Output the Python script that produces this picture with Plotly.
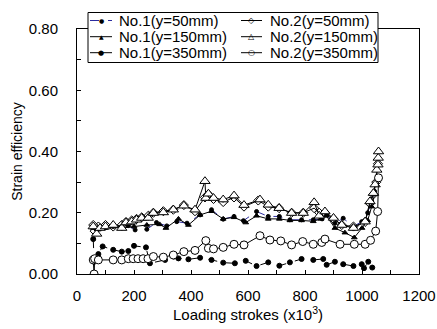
import plotly.graph_objects as go

# ---- data ----
x_n1_50 = [57, 75, 100, 127, 157, 180, 204, 245, 279, 315, 350, 386, 432, 472, 513, 551, 584, 630, 671, 710, 747, 788, 829, 860, 876, 905, 934, 970, 999, 1020, 1034, 1044]
y_n1_50 = [0.155, 0.15, 0.152, 0.155, 0.15, 0.158, 0.144, 0.146, 0.168, 0.157, 0.171, 0.166, 0.193, 0.21, 0.179, 0.188, 0.174, 0.204, 0.188, 0.188, 0.177, 0.177, 0.177, 0.18, 0.193, 0.166, 0.182, 0.155, 0.171, 0.2, 0.237, 0.27]

x_n1_150 = [57, 75, 100, 127, 157, 200, 245, 290, 312, 356, 391, 432, 472, 513, 551, 592, 630, 671, 710, 747, 788, 829, 855, 875, 905, 940, 973, 1000, 1020, 1034, 1044]
y_n1_150 = [0.15, 0.145, 0.15, 0.155, 0.15, 0.155, 0.16, 0.162, 0.15, 0.18, 0.16, 0.193, 0.205, 0.18, 0.185, 0.168, 0.19, 0.18, 0.18, 0.175, 0.175, 0.172, 0.18, 0.19, 0.15, 0.135, 0.119, 0.15, 0.175, 0.22, 0.26]

x_n1_350 = [57, 60, 75, 90, 127, 157, 180, 200, 242, 256, 309, 356, 391, 432, 472, 513, 554, 592, 630, 671, 710, 747, 788, 829, 864, 876, 905, 934, 970, 999, 1007, 1022, 1036]
y_n1_350 = [0.114, 0.04, 0.065, 0.09, 0.079, 0.073, 0.075, 0.092, 0.087, 0.035, 0.046, 0.051, 0.048, 0.053, 0.046, 0.037, 0.035, 0.043, 0.026, 0.038, 0.027, 0.038, 0.049, 0.046, 0.049, 0.03, 0.04, 0.032, 0.026, 0.032, 0.019, 0.04, 0.021]

x_n2_50 = [57, 62, 75, 100, 127, 157, 172, 192, 209, 227, 250, 268, 303, 338, 375, 414, 449, 461, 479, 513, 551, 586, 636, 671, 709, 753, 794, 832, 850, 870, 900, 929, 970, 1011, 1028, 1040, 1050, 1056]
y_n2_50 = [0.16, 0.14, 0.155, 0.16, 0.155, 0.16, 0.17, 0.175, 0.18, 0.185, 0.19, 0.2, 0.205, 0.21, 0.225, 0.205, 0.25, 0.26, 0.245, 0.235, 0.25, 0.22, 0.24, 0.22, 0.215, 0.2, 0.2, 0.215, 0.2, 0.2, 0.18, 0.16, 0.155, 0.17, 0.23, 0.26, 0.3, 0.36]

x_n2_150 = [57, 69, 81, 100, 127, 157, 172, 192, 209, 227, 250, 268, 303, 338, 375, 414, 449, 452, 461, 479, 513, 551, 586, 642, 671, 709, 753, 794, 832, 850, 870, 900, 929, 970, 1011, 1028, 1040, 1046, 1052, 1056, 1057, 1058]
y_n2_150 = [0.155, 0.131, 0.15, 0.155, 0.16, 0.15, 0.168, 0.171, 0.177, 0.183, 0.183, 0.199, 0.201, 0.21, 0.223, 0.21, 0.303, 0.248, 0.262, 0.248, 0.243, 0.256, 0.225, 0.243, 0.226, 0.215, 0.199, 0.199, 0.234, 0.19, 0.204, 0.183, 0.16, 0.15, 0.171, 0.237, 0.264, 0.292, 0.34, 0.357, 0.379, 0.40]

x_n2_350 = [57, 60, 62, 75, 127, 157, 180, 197, 214, 232, 249, 268, 303, 338, 375, 414, 452, 461, 479, 513, 551, 586, 642, 677, 715, 753, 792, 829, 859, 870, 923, 973, 1011, 1030, 1048, 1055, 1058]
y_n2_350 = [0.046, 0.0, 0.05, 0.046, 0.046, 0.046, 0.05, 0.05, 0.05, 0.05, 0.05, 0.057, 0.055, 0.062, 0.073, 0.077, 0.109, 0.084, 0.082, 0.087, 0.097, 0.095, 0.125, 0.111, 0.108, 0.095, 0.106, 0.097, 0.103, 0.114, 0.097, 0.097, 0.097, 0.11, 0.14, 0.204, 0.314]

x_ticks = [0, 200, 400, 600, 800, 1000, 1200]
y_ticks = [0.0, 0.2, 0.4, 0.6, 0.8]

series_names = ["No.1(y=50mm)", "No.1(y=150mm)", "No.1(y=350mm)",
                "No.2(y=50mm)", "No.2(y=150mm)", "No.2(y=350mm)"]

FONT = "Liberation Sans, Arial, sans-serif"
W, H = 437, 329
ML, MR, MT, MB = 77, 18, 29, 55
PW, PH = W - ML - MR, H - MT - MB

def px_x(p):
    return (p - ML) / PW

def px_y(p):
    return (H - MB - p) / PH

fig = go.Figure()

styles = [
    # dash, line colour, marker symbol, size, fill, legend glyph, glyph size
    ("dash", "#2b2b9f", "circle", 4, "black", "\u25CF", 6),
    ("solid", "black", "triangle-up", 5, "black", "\u25B2", 6),
    ("dash", "black", "circle", 5, "black", "\u25CF", 7),
    ("solid", "black", "diamond-open", 7, "black", "\u25C7", 8),
    ("solid", "black", "triangle-up", 9, "white", "\u25B3", 8),
    ("solid", "black", "circle", 8, "white", "\u25CB", 8),
]
xs = [x_n1_50, x_n1_150, x_n1_350, x_n2_50, x_n2_150, x_n2_350]
ys = [y_n1_50, y_n1_150, y_n1_350, y_n2_50, y_n2_150, y_n2_350]

for name, x, y, st in zip(series_names, xs, ys, styles):
    dash, color, symbol, size, mfill, _, _ = st
    fig.add_trace(go.Scatter(
        x=x, y=y, name=name, mode="lines+markers", showlegend=False,
        line=dict(color=color, width=1, dash=dash),
        marker=dict(symbol=symbol, size=size, color=mfill,
                    line=dict(color="black", width=1)),
    ))

fig.update_layout(
    width=W, height=H,
    margin=dict(l=ML, r=MR, t=MT, b=MB),
    paper_bgcolor="white", plot_bgcolor="white",
    font=dict(family=FONT, size=15, color="black"),
    showlegend=False,
    xaxis=dict(
        range=[0, 1200], tickvals=x_ticks, ticktext=[str(v) for v in x_ticks],
        ticks="inside", ticklen=4, tickcolor="black", ticklabelstandoff=8,
        minor=dict(dtick=100, ticks="inside", ticklen=4, tickcolor="black"),
        showline=True, linecolor="black", linewidth=1, mirror=True,
        showgrid=False, zeroline=False, automargin=False,
        title=dict(text="Loading strokes (x10<sup>3</sup>)", font=dict(size=15), standoff=2),
    ),
    yaxis=dict(
        range=[0, 0.8], tickvals=y_ticks, ticktext=[f"{v:.2f}" for v in y_ticks],
        ticks="inside", ticklen=4, tickcolor="black", ticklabelstandoff=15,
        minor=dict(dtick=0.1, ticks="inside", ticklen=4, tickcolor="black"),
        showline=True, linecolor="black", linewidth=1, mirror=True,
        showgrid=False, zeroline=False, automargin=False,
        title=dict(text="Strain efficiency", font=dict(size=14), standoff=2),
    ),
)

# ---- legend box (drawn as layout decoration) ----
fig.add_shape(type="rect", xref="paper", yref="paper",
              x0=px_x(88), x1=px_x(378), y0=px_y(62.5), y1=px_y(12.5),
              line=dict(color="black", width=1), fillcolor="white", layer="above")

col_line = [(90, 112), (241, 262)]
col_text = [117, 268]
row_y = [20.5, 36.7, 52.7]
order = [(0, 0), (1, 0), (2, 0), (0, 1), (1, 1), (2, 1)]  # (row, col) per series
for (row, col), name, st in zip(order, series_names, styles):
    dash, color, _, _, _, glyph, gsize = st
    x0, x1 = col_line[col]
    yy = px_y(row_y[row])
    fig.add_shape(type="line", xref="paper", yref="paper",
                  x0=px_x(x0), x1=px_x(x1), y0=yy, y1=yy,
                  line=dict(color=color, width=1, dash="dash" if (dash == "dash" and color != "black") else "solid"),
                  layer="above")
    fig.add_annotation(text=glyph, xref="paper", yref="paper",
                       x=px_x((x0 + x1) / 2), y=yy, xanchor="center", yanchor="middle",
                       showarrow=False, bgcolor="rgba(0,0,0,0)",
                       font=dict(family="DejaVu Sans", size=gsize, color="black"))
    fig.add_annotation(text=name, xref="paper", yref="paper",
                       x=px_x(col_text[col]), y=yy, xanchor="left", yanchor="middle",
                       showarrow=False, font=dict(family=FONT, size=15))

fig.add_annotation(text="(y = 350 mm)", xref="paper", yref="paper",
                   x=px_x(190), y=px_y(2), xanchor="center", yanchor="bottom",
                   showarrow=False, font=dict(family=FONT, size=15))

fig.write_html("out.html")
